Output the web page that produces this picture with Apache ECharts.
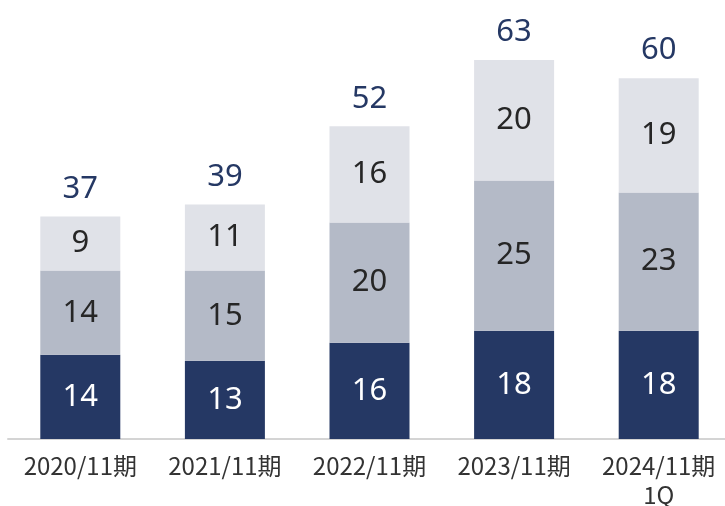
<!DOCTYPE html>
<html><head><meta charset="utf-8">
<script src="https://cdn.jsdelivr.net/npm/echarts@6/dist/echarts.min.js"></script>
<style>html,body{margin:0;padding:0;background:#fff}#c{width:725px;height:506px}</style>
</head><body><div id="c"></div>
<script>
const categories = ['2020/11期', '2021/11期', '2022/11期', '2023/11期', '2024/11期\n1Q'];
const bottomVals = [14, 13, 16, 18, 18];
const middleVals = [14, 15, 20, 25, 23];
const topVals = [9, 11, 16, 20, 19];
const totals = [37, 39, 52, 63, 60];

const chart = echarts.init(document.getElementById('c'));
const font = '"Noto Sans", sans-serif';
const inLabel = (color) => ({show: true, position: 'inside', color: color, fontSize: 31, fontFamily: font});
chart.setOption({
  animation: false,
  grid: {left: 8, width: 723, top: 18, height: 421, containLabel: false, outerBoundsMode: 'none'},
  xAxis: {
    type: 'category', data: categories,
    axisLine: {lineStyle: {color: '#d4d4d4', width: 2}},
    axisTick: {show: false},
    axisLabel: {color: '#333', fontSize: 24, margin: 12, lineHeight: 29, interval: 0, hideOverlap: false, fontFamily: '"Noto Sans CJK JP", sans-serif'}
  },
  yAxis: {type: 'value', min: 0, max: 70, show: false, splitLine: {show: false}},
  series: [
    {type: 'bar', stack: 's', data: bottomVals, barWidth: 80, itemStyle: {color: '#253864'}, label: inLabel('#fff')},
    {type: 'bar', stack: 's', data: middleVals, barWidth: 80, itemStyle: {color: '#b4bac7'}, label: inLabel('#262626')},
    {type: 'bar', stack: 's', data: topVals, barWidth: 80, itemStyle: {color: '#e0e2e8'}, label: inLabel('#262626')},
    {type: 'bar', data: totals, barWidth: 80, barGap: '-100%', itemStyle: {color: 'rgba(0,0,0,0)'}, z: 0,
     label: {show: true, position: 'top', distance: 12, color: '#253864', fontSize: 31, fontFamily: font}}
  ]
});
</script></body></html>
